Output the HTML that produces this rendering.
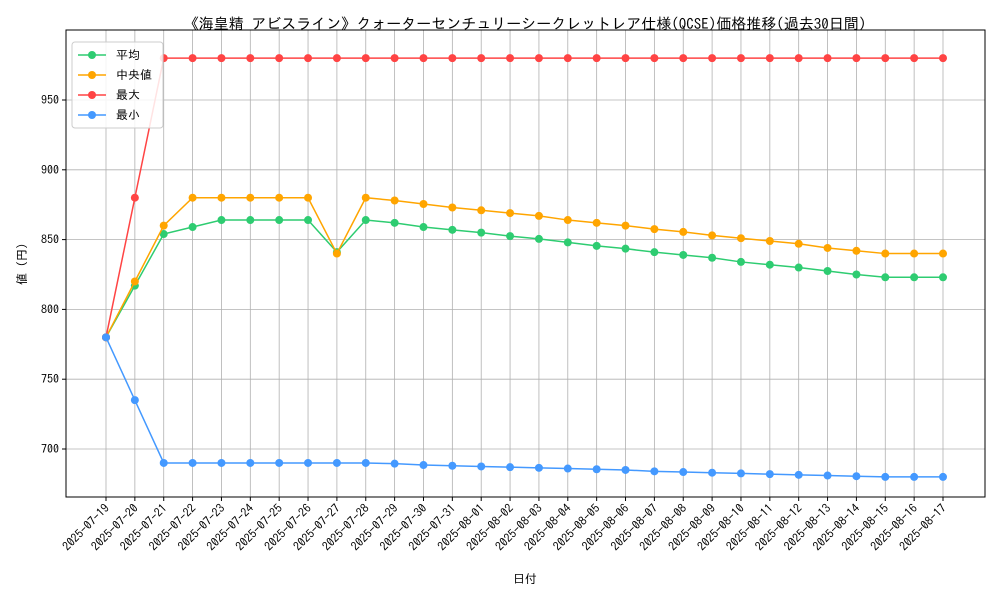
<!DOCTYPE html>
<html><head><meta charset="utf-8"><style>
body{margin:0;background:#fff;}
svg text{font-family:"IPAGothic","Noto Sans CJK JP","Liberation Sans",sans-serif;fill:#000;}
</style></head><body>
<svg id="chart" width="1000" height="600" xmlns="http://www.w3.org/2000/svg">
<rect width="1000" height="600" fill="#fff"/>
<text x="525" y="29" font-size="15" text-anchor="middle">《海皇精 アビスライン》クォーターセンチュリーシークレットレア仕様(QCSE)価格推移(過去30日間)</text>
<g id="grid"></g><g id="axes"></g><g id="series"></g>
<text x="525" y="583" font-size="12" text-anchor="middle">日付</text>
<text transform="translate(26,264) rotate(-90)" font-size="12" text-anchor="middle">値 (円)</text>
<g id="legend"></g>
</svg>
<script>
const dates=["2025-07-19","2025-07-20","2025-07-21","2025-07-22","2025-07-23","2025-07-24","2025-07-25","2025-07-26","2025-07-27","2025-07-28","2025-07-29","2025-07-30","2025-07-31","2025-08-01","2025-08-02","2025-08-03","2025-08-04","2025-08-05","2025-08-06","2025-08-07","2025-08-08","2025-08-09","2025-08-10","2025-08-11","2025-08-12","2025-08-13","2025-08-14","2025-08-15","2025-08-16","2025-08-17"];
const meanVals=[780,817,854,859,864,864,864,864,841,864,862,859,857,855,852.5,850.5,848,845.5,843.5,841,839,837,834,832,830,827.5,825,823,823,823];
const medianVals=[780,820,860,880,880,880,880,880,840,880,878,875.5,873,871,869,867,864,862,860,857.5,855.5,853,851,849,847,844,842,840,840,840];
const maxVals=[780,880,980,980,980,980,980,980,980,980,980,980,980,980,980,980,980,980,980,980,980,980,980,980,980,980,980,980,980,980];
const minVals=[780,735,690,690,690,690,690,690,690,690,689.5,688.5,688,687.5,687,686.5,686,685.5,685,684,683.5,683,682.5,682,681.5,681,680.5,680,680,680];
const yTicks=[700,750,800,850,900,950];
const seriesNames=["平均","中央値","最大","最小"];
const NS="http://www.w3.org/2000/svg";
const L=66,R=985,T=30,B=497;
const x=i=>106+i*(943-106)/(dates.length-1);
const y=v=>449-(v-700)*(449-100)/250;
function mk(t,a,p){const e=document.createElementNS(NS,t);for(const k in a)e.setAttribute(k,a[k]);p.appendChild(e);return e;}
const grid=document.getElementById('grid'),axes=document.getElementById('axes'),ser=document.getElementById('series'),leg=document.getElementById('legend');
dates.forEach((d,i)=>{
 const g=mk('line',{x1:x(i),x2:x(i),y1:T,y2:B,stroke:'#b0b0b0','stroke-width':0.8},grid);
 
 
 mk('line',{x1:x(i),x2:x(i),y1:B,y2:B+4,stroke:'#000'},axes);
 const t=mk('text',{x:x(i)+4,y:B+12,'font-size':12,'text-anchor':'end',transform:`rotate(-45 ${x(i)+4} ${B+12})`},axes);
 
 
 t.textContent=d;
});
yTicks.forEach(v=>{
 const g=mk('line',{x1:L,x2:R,y1:y(v),y2:y(v),stroke:'#b0b0b0','stroke-width':0.8},grid);
 
 
 mk('line',{x1:L-4,x2:L,y1:y(v),y2:y(v),stroke:'#000'},axes);
 const t=mk('text',{x:L-7,y:y(v)+4,'font-size':12,'text-anchor':'end'},axes);
 
 
 t.textContent=v;
});
const fr=mk('rect',{x:L,y:T,width:R-L,height:B-T,fill:'none',stroke:'#000','stroke-width':1},axes);


const all=[meanVals,medianVals,maxVals,minVals],cols=['#2ecc71','#ffa500','#ff4444','#4499ff'];
all.forEach((vals,s)=>{
 const g=mk('g',{},ser);
 
 
 mk('polyline',{points:vals.map((v,i)=>x(i)+','+y(v)).join(' '),fill:'none',stroke:cols[s],'stroke-width':1.5},g);
 vals.forEach((v,i)=>{const c=mk('circle',{cx:x(i),cy:y(v),r:4,fill:cols[s]},g);
  
  });
});
mk('rect',{x:72,y:42,width:91,height:86,rx:3,fill:'#fff','fill-opacity':0.85,stroke:'#ccc'},leg);
seriesNames.forEach((n,s)=>{
 const yy=55+s*20;
 const g=mk('g',{},leg);
 
 
 mk('line',{x1:78,x2:106,y1:yy,y2:yy,stroke:cols[s],'stroke-width':1.5},g);
 mk('circle',{cx:92,cy:yy,r:4,fill:cols[s]},g);
 const t=mk('text',{x:116,y:yy+4,'font-size':12},g);t.textContent=n;
});
</script>
</body></html>
